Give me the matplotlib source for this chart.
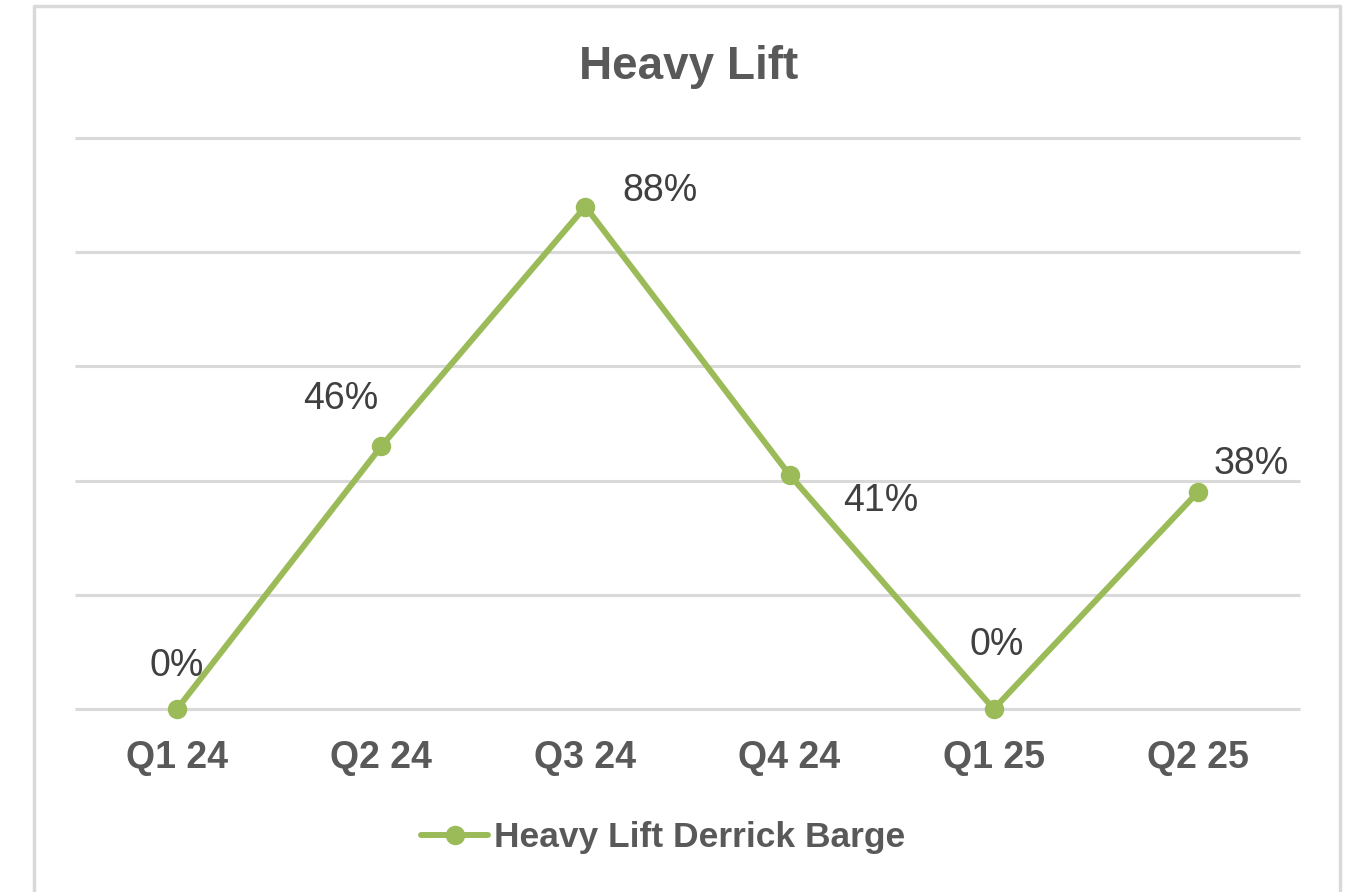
import matplotlib.pyplot as plt
from matplotlib.lines import Line2D

plt.rcParams['font.family'] = ['Liberation Sans', 'DejaVu Sans']

quarters = ['Q1 24', 'Q2 24', 'Q3 24', 'Q4 24', 'Q1 25', 'Q2 25']
utilization = [0, 46, 88, 41, 0, 38]
series_name = 'Heavy Lift Derrick Barge'

# label offsets (points) relative to each marker
label_offsets = [(0, 31), (-29, 34), (54, 11), (66, -19), (2, 46), (38, 20)]

green = '#9BBB59'
grey_text = '#595959'
grid_grey = '#d9d9d9'

fig = plt.figure(figsize=(13.52, 8.92), dpi=100)
ax = fig.add_axes([75 / 1352, 1 - 709 / 892, 1225 / 1352, 571 / 892])

x = list(range(len(quarters)))
ax.plot(x, utilization, '-o', color=green, lw=4.3, ms=13, label=series_name,
        solid_capstyle='round', zorder=3, clip_on=False)

for xi, v, off in zip(x, utilization, label_offsets):
    ax.annotate(f'{v}%', (xi, v), xytext=off, textcoords='offset points',
                ha='center', va='center', fontsize=27, color='#404040')

ax.set_xlim(-0.5, len(quarters) - 0.5)
ax.set_ylim(0, 100)
ax.set_yticks([0, 20, 40, 60, 80, 100])
ax.set_yticklabels([])
ax.tick_params(axis='y', length=0)
ax.tick_params(axis='x', length=0, pad=22)
ax.set_xticks(x)
ax.set_xticklabels(quarters, fontsize=27, fontweight='bold', color=grey_text)
ax.grid(axis='y', color=grid_grey, lw=2.2)
for gl in ax.get_ygridlines():
    gl.set_clip_on(False)
    gl.set_solid_capstyle('butt')
ax.set_axisbelow(True)
for s in ax.spines.values():
    s.set_visible(False)

fig.text(0.509, 1 - 67 / 892, 'Heavy Lift', ha='center', va='center',
         fontsize=33, fontweight='bold', color=grey_text)

leg = fig.legend(loc='center', bbox_to_anchor=(663 / 1352, 1 - 838 / 892),
                 frameon=False, handlelength=1.9, handletextpad=0.15,
                 prop={'weight': 'bold', 'size': 25.5})
for t in leg.get_texts():
    t.set_color(grey_text)

# outer chart border (bottom edge runs off the image)
bx = [34 / 1352, 34 / 1352, 1340 / 1352, 1340 / 1352]
by = [0, 1 - 6 / 892, 1 - 6 / 892, 0]
fig.add_artist(Line2D(bx, by, transform=fig.transFigure, color=grid_grey, lw=2.5))

fig.savefig('out.png', dpi=100)
